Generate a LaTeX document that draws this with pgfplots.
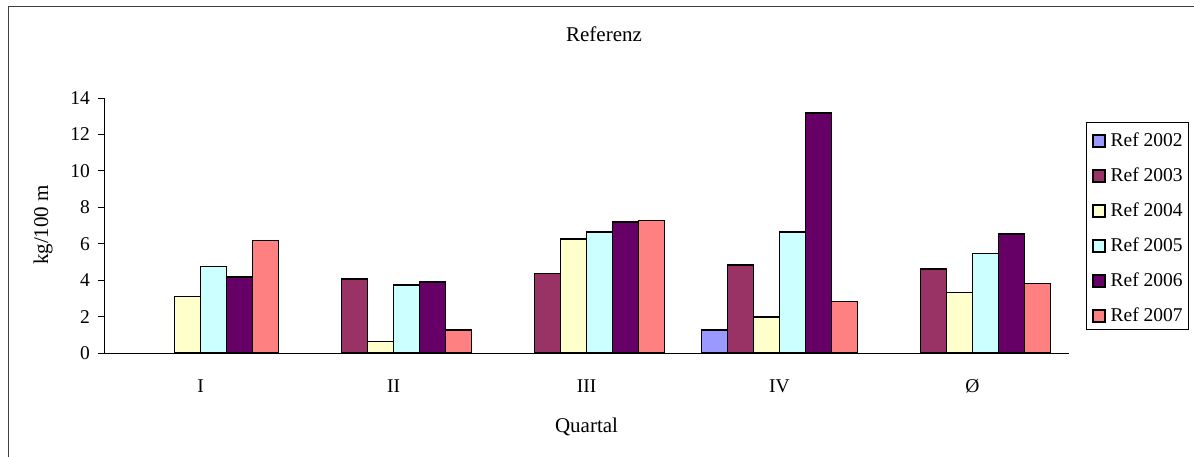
\documentclass[border=0pt]{standalone}
\usepackage{pgfplots}
\pgfplotsset{compat=1.18}
\usepackage{fontspec}
\setmainfont{Liberation Serif}
\definecolor{cA}{HTML}{9999FF}
\definecolor{cB}{HTML}{993366}
\definecolor{cC}{HTML}{FFFFCC}
\definecolor{cD}{HTML}{CCFFFF}
\definecolor{cE}{HTML}{660066}
\definecolor{cF}{HTML}{FF8080}
\pgfplotsset{sqlegend/.style={draw=black, line width=1.5bp, legend image code/.code={\draw[##1,draw=black,line width=1.2bp] (0bp,-8.5bp) rectangle (12bp,3.5bp);}}}
\begin{document}
\begin{tikzpicture}
\path[use as bounding box] (0bp,0bp) rectangle (1194bp,-457bp);
\draw[line width=1.6bp, black!75] (8.5bp,-457bp) -- (8.5bp,-6.5bp) -- (1194bp,-6.5bp);
\node[font=\fontsize{21bp}{25bp}\selectfont, anchor=base] at (604bp,-41bp) {Referenz};
\node[font=\fontsize{21bp}{25bp}\selectfont, anchor=base] at (586.5bp,-432bp) {Quartal};
\node[font=\fontsize{21bp}{25bp}\selectfont, rotate=90, anchor=center] at (43bp,-225bp) {kg/100 m};
\begin{axis}[
  at={(104bp,-353bp)}, anchor=south west,
  scale only axis, width=965bp, height=255bp,
  ybar=0pt, bar width=26bp,
  xmin=-0.5, xmax=4.5, ymin=0, ymax=14,
  ytick={0,2,...,14},
  xtick={0,1,2,3,4},
  xticklabels={I,II,III,IV,Ø},
  extra x ticks={-0.5,0.5,1.5,2.5,3.5,4.5},
  extra x tick labels={},
  extra x tick style={major tick length=7bp, major tick style={black, line width=1bp}},
  major x tick style={draw=none},
  major tick length=6bp,
  tick align=outside,
  tick style={black, line width=1bp},
  axis x line*=bottom, axis y line*=left,
  axis line style={black, line width=1bp},
  /pgf/number format/assume math mode=true,
  tick label style={font=\fontsize{19.5bp}{23bp}\selectfont},
  yticklabel style={inner sep=0pt, xshift=-8bp},
  xticklabel style={inner sep=0pt, text height=13bp, text depth=0bp, anchor=north, yshift=-20bp},
  legend style={at={(rel axis cs:1.0176,0.906)}, anchor=north west, draw=black, line width=1bp,
    inner xsep=6bp, inner ysep=4bp, row sep=11bp, column sep=5bp,
    font=\fontsize{19.5bp}{23bp}\selectfont,
    nodes={inner sep=0pt, text height=20bp, text depth=4bp}},
  legend cell align=left,
]
\addplot[fill=cA, sqlegend] coordinates {(3,1.26)};
\addplot[fill=cB, sqlegend] coordinates {(1,4.07) (2,4.36) (3,4.84) (4,4.62)};
\addplot[fill=cC, sqlegend] coordinates {(0,3.09) (1,0.64) (2,6.26) (3,1.98) (4,3.33)};
\addplot[fill=cD, sqlegend] coordinates {(0,4.74) (1,3.72) (2,6.63) (3,6.63) (4,5.46)};
\addplot[fill=cE, sqlegend] coordinates {(0,4.17) (1,3.90) (2,7.18) (3,13.19) (4,6.54)};
\addplot[fill=cF, sqlegend] coordinates {(0,6.17) (1,1.26) (2,7.27) (3,2.82) (4,3.81)};
\legend{Ref 2002,Ref 2003,Ref 2004,Ref 2005,Ref 2006,Ref 2007}
\end{axis}
\end{tikzpicture}
\end{document}
